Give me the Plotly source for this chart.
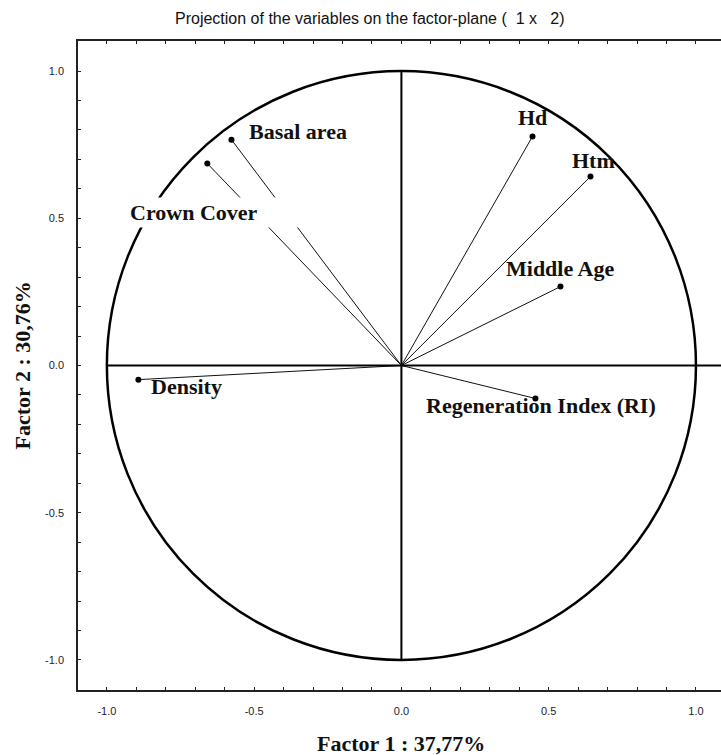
import plotly.graph_objects as go

# Variable coordinates on the factor plane (Factor 1, Factor 2)
variables = ["Basal area", "Crown Cover", "Hd", "Htm", "Middle Age", "Density",
             "Regeneration Index (RI)"]
factor1 = [-0.577, -0.659, 0.445, 0.642, 0.540, -0.893, 0.455]
factor2 = [0.767, 0.686, 0.778, 0.642, 0.268, -0.048, -0.112]

# Label placement relative to each point (pixels) and anchor
label_dx = [16, -78, 0, 3, 0, 11, 6]
label_dy = [8, -49, 19, 16, 18, -7, -7]
label_anchor = ["left", "left", "center", "center", "center", "left", "center"]

x_ticks = [-1.0, -0.5, 0.0, 0.5, 1.0]
y_ticks = [-1.0, -0.5, 0.0, 0.5, 1.0]

title_text = "Projection of the variables on the factor-plane (  1 x   2)"
x_title = "Factor 1 : 37,77%"
y_title = "Factor 2 : 30,76%"

XR = [-1.098, 1.085]
YR = [-1.102, 1.102]

fig = go.Figure()

for name, fx, fy in zip(variables, factor1, factor2):
    fig.add_trace(go.Scatter(
        x=[0, fx], y=[0, fy], mode="lines",
        line=dict(color="#111", width=1), hoverinfo="skip", showlegend=False))

fig.add_trace(go.Scatter(
    x=factor1, y=factor2, mode="markers", text=variables,
    marker=dict(color="#000", size=6), showlegend=False))

# Unit circle and the two axes through the origin
fig.add_shape(type="circle", xref="x", yref="y", x0=-1, y0=-1, x1=1, y1=1,
              line=dict(color="#000", width=2.5))
fig.add_shape(type="line", xref="x", yref="y", x0=-1, y0=0, x1=XR[1], y1=0,
              line=dict(color="#000", width=2))
fig.add_shape(type="line", xref="x", yref="y", x0=0, y0=-1, x1=0, y1=1,
              line=dict(color="#000", width=2))

label_font = dict(family="Liberation Serif, Times New Roman, serif", size=22,
                  color="#111", weight="bold")
for i, name in enumerate(variables):
    extra = {}
    if name == "Crown Cover":
        extra = dict(bgcolor="#fff", width=177, height=29, align="left",
                     borderpad=0)
    fig.add_annotation(
        x=factor1[i], y=factor2[i], xref="x", yref="y", text=name,
        showarrow=False, xanchor=label_anchor[i], yanchor="middle",
        xshift=label_dx[i], yshift=label_dy[i], font=label_font, **extra)

fig.add_annotation(
    x=(370 - 78) / 643, y=1, xref="paper", yref="paper", yanchor="middle",
    yshift=41 - 18, xanchor="center", text=title_text,
    showarrow=False,
    font=dict(family="Liberation Sans, Arial", size=16, color="#111"))

fig.add_annotation(
    x=0, y=0, xref="x", yref="paper", yanchor="middle", yshift=-53,
    text=x_title, showarrow=False,
    font=dict(family="Liberation Serif, Times New Roman, serif", size=22,
              color="#111", weight="bold"))
fig.add_annotation(
    x=0, y=0, xref="paper", yref="y", xanchor="center", xshift=-56,
    text=y_title, textangle=-90, showarrow=False,
    font=dict(family="Liberation Serif, Times New Roman, serif", size=22,
              color="#111", weight="bold"))

axis_font = dict(family="Liberation Sans, Arial", size=11, color="#1c1c2a")
fig.update_xaxes(
    range=XR, tickvals=x_ticks, ticktext=[f"{v:.1f}" for v in x_ticks],
    showgrid=False, zeroline=False, showline=True, linecolor="#222",
    linewidth=1.5, mirror="ticks", ticks="inside", ticklen=3, tickwidth=1,
    tickcolor="#222",
    minor=dict(dtick=0.1, ticks="inside", ticklen=3, tickcolor="#222"),
    tickfont=axis_font, ticklabelstandoff=10)
fig.update_yaxes(
    range=YR, tickvals=y_ticks, ticktext=[f"{v:.1f}" for v in y_ticks],
    showgrid=False, zeroline=False, showline=True, linecolor="#222",
    linewidth=1.5, mirror=False, ticks="inside", ticklen=3, tickwidth=1,
    tickcolor="#222",
    minor=dict(dtick=0.1, ticks="inside", ticklen=3, tickcolor="#222"),
    tickfont=axis_font, ticklabelstandoff=10)

fig.update_layout(
    width=721, height=755,
    margin=dict(l=78, r=0, t=41, b=65),
    paper_bgcolor="#fff", plot_bgcolor="#fff",
    showlegend=False)

fig.write_html("out.html")
